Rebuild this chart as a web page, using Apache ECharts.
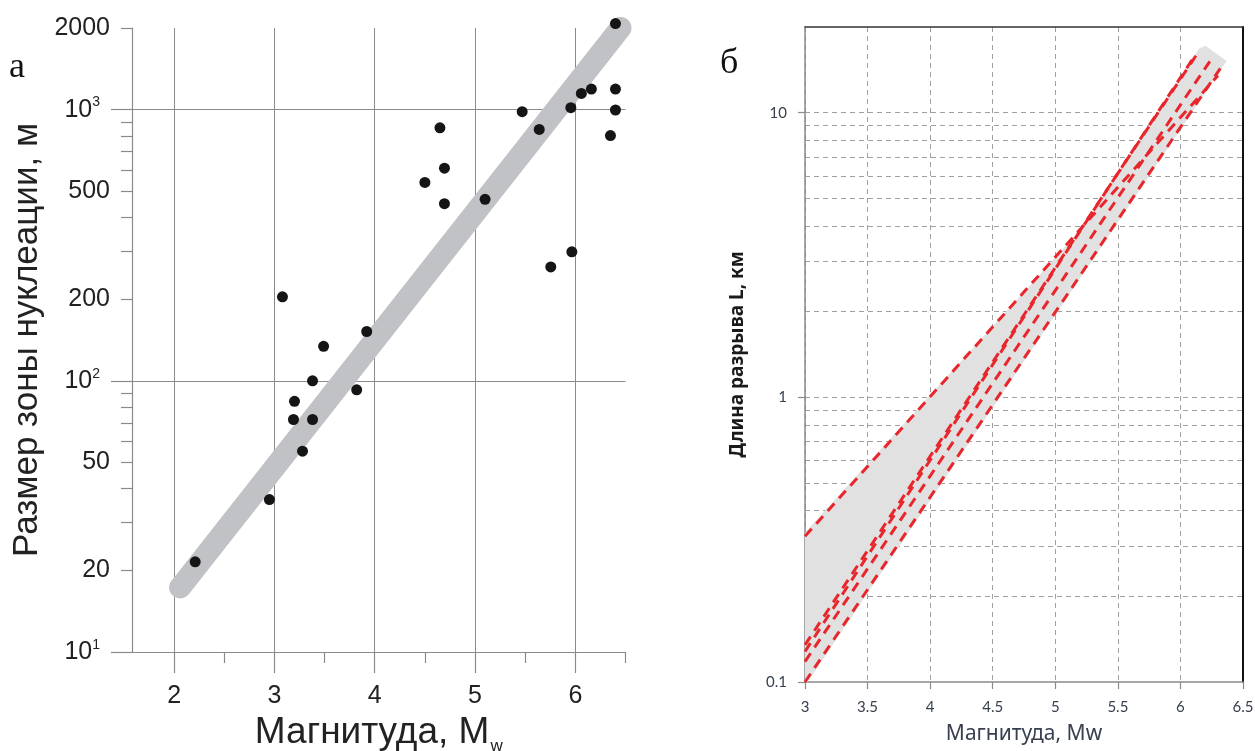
<!DOCTYPE html>
<html><head><meta charset="utf-8">
<script src="https://cdn.jsdelivr.net/npm/echarts@6/dist/echarts.min.js"></script>
<style>html,body{margin:0;padding:0;background:#fff}#c{width:1255px;height:751px}</style>
</head><body><div id="c"></div>
<script>
// ---------- Panel "а" data ----------
const magA  = [2.21, 2.95, 3.08, 3.19, 3.20, 3.28, 3.38, 3.38, 3.49, 3.82, 3.92, 4.50, 4.65, 4.695, 4.695, 5.10, 5.47, 5.64, 5.755, 5.955, 5.965, 6.06, 6.16, 6.35, 6.40, 6.40, 6.40];
const sizeA = [21.5, 36.5, 204, 72, 84, 55, 72, 100, 134, 92.6, 152, 539, 857, 608, 450, 467, 983, 845, 263, 1017, 299, 1148, 1191, 802, 997, 1191, 2076];
const trendMag  = [2.06, 6.45];
const trendSize = [17.3, 2000];
const xMajorA = [2, 3, 4, 5, 6];
const xMinorA = [2.5, 3.5, 4.5, 5.5, 6.5];
const yMajorA = [10, 100, 1000];
const yMajorExpA = ['1', '2', '3'];
const yLabelA = [20, 50, 200, 500, 2000];
const yMinorA = [20, 30, 40, 50, 60, 70, 80, 90, 200, 300, 400, 500, 600, 700, 800, 900, 2000];

// ---------- Panel "б" data ----------
const bandMag = [3, 5.22, 6.15, 6.2, 6.37, 3];
const bandLen = [0.335, 3.96, 16.8, 17.2, 15.2, 0.097];
const lineMags = [[3, 6.3], [3, 6.15], [3, 6.1], [3, 6.25], [3, 6.35]];
const lineLens = [[0.325, 13.5], [0.135, 16.5], [0.128, 15.5], [0.118, 15.5], [0.1, 15]];
const yMajorB = [0.1, 1, 10];
const yGridB = [0.2, 0.3, 0.4, 0.5, 0.6, 0.7, 0.8, 0.9, 1, 2, 3, 4, 5, 6, 7, 8, 9, 10];

const SANS = '"Liberation Sans", Arial, sans-serif';
const CAL = 'Lato, "Open Sans", sans-serif';
const NOTO = '"Noto Sans", "DejaVu Sans", sans-serif';
const GRAY = '#8a8a8a';

const chart = echarts.init(document.getElementById('c'), null, {renderer: 'canvas'});

const series = [
  {
    type: 'line', xAxisIndex: 0, yAxisIndex: 0, clip: false, silent: true,
    data: trendMag.map((m, i) => [m, trendSize[i]]),
    symbol: 'none', lineStyle: {color: '#c1c2c5', width: 22, cap: 'round'}, z: 2
  },
  {
    type: 'scatter', xAxisIndex: 0, yAxisIndex: 0, clip: false,
    data: magA.map((m, i) => [m, sizeA[i]]),
    symbol: 'circle', symbolSize: 11, itemStyle: {color: '#151515', opacity: 1}, z: 3
  },
  {
    type: 'custom', xAxisIndex: 2, yAxisIndex: 2, clip: true, z: 1,
    data: bandMag.map((m, i) => [m, bandLen[i]]),
    encode: {x: 0, y: 1},
    renderItem: function (params, api) {
      if (params.dataIndex !== 0) return null;
      const pts = bandMag.map((m, i) => api.coord([m, bandLen[i]]));
      return {type: 'polygon', shape: {points: pts}, style: {fill: '#e1e1e1'}};
    }
  }
];
lineMags.forEach((mm, k) => {
  series.push({
    type: 'line', xAxisIndex: 2, yAxisIndex: 2, symbol: 'none', z: 4,
    data: mm.map((m, i) => [m, lineLens[k][i]]),
    lineStyle: {color: '#e8262b', width: 3, type: [10, 7]}
  });
});

const option = {
  backgroundColor: '#fff',
  animation: false,
  grid: [
    {left: 132, top: 28, right: 629.5, bottom: 99, outerBoundsMode: 'none'},
    {left: 805, top: 27, right: 12, bottom: 69, outerBoundsMode: 'none'}
  ],
  xAxis: [
    {
      gridIndex: 0, type: 'value', min: 1.58, max: 6.5, position: 'bottom',
      axisLine: {show: true, lineStyle: {color: GRAY, width: 1.2}},
      axisTick: {show: true, customValues: xMinorA, length: 11, lineStyle: {color: GRAY, width: 1.2}},
      axisLabel: {show: false}, splitLine: {show: false}
    },
    {
      gridIndex: 0, type: 'value', min: 1.58, max: 6.5, position: 'bottom',
      axisLine: {show: false},
      axisTick: {show: true, customValues: xMajorA, length: 21, lineStyle: {color: GRAY, width: 1.2}},
      axisLabel: {show: true, customValues: xMajorA, margin: 32, fontSize: 25, color: '#222', fontFamily: SANS, formatter: v => String(v)},
      splitLine: {show: true, lineStyle: {color: GRAY, width: 1}},
      name: '{a|Магнитуда, M}{s|w}', nameLocation: 'middle', nameGap: 55,
      nameTextStyle: {rich: {
        a: {fontSize: 37, lineHeight: 38, color: '#222', fontFamily: SANS, verticalAlign: 'top'},
        s: {fontSize: 17, lineHeight: 17, color: '#222', fontFamily: SANS, verticalAlign: 'top', padding: [24, 0, 0, 1]}
      }}
    },
    {
      gridIndex: 1, type: 'value', min: 3, max: 6.5, interval: 0.5, position: 'bottom',
      axisLine: {show: true, lineStyle: {color: GRAY, width: 1.5}},
      axisTick: {show: true, length: 7, lineStyle: {color: GRAY, width: 1.2}},
      axisLabel: {show: true, margin: 18, fontSize: 15, color: '#38404f', fontFamily: CAL, formatter: v => String(v)},
      splitLine: {show: true, lineStyle: {color: '#a0a0a0', width: 1, type: [5, 4]}},
      name: 'Магнитуда, Mw', nameLocation: 'middle', nameGap: 42,
      nameTextStyle: {fontSize: 21, color: '#38404f', fontFamily: NOTO}
    },
    {
      gridIndex: 1, type: 'value', min: 3, max: 6.5, position: 'top',
      axisLine: {show: true, lineStyle: {color: '#333', width: 1.5}},
      axisTick: {show: false}, axisLabel: {show: false}, splitLine: {show: false}
    }
  ],
  yAxis: [
    {
      gridIndex: 0, type: 'log', min: 10, max: 2000, position: 'left',
      axisLine: {show: true, lineStyle: {color: GRAY, width: 1.2}},
      axisTick: {show: true, customValues: yMinorA, length: 11, lineStyle: {color: GRAY, width: 1.2}},
      axisLabel: {show: true, customValues: yLabelA, margin: 22, fontSize: 25, color: '#222', fontFamily: SANS, formatter: v => String(Math.round(v))},
      splitLine: {show: false},
      name: 'Размер зоны нуклеации, м', nameLocation: 'middle', nameRotate: 90, nameGap: 87,
      nameTextStyle: {fontSize: 35, color: '#222', fontFamily: SANS}
    },
    {
      gridIndex: 0, type: 'log', min: 10, max: 2000, position: 'left',
      axisLine: {show: false},
      axisTick: {show: true, customValues: yMajorA, length: 21, lineStyle: {color: GRAY, width: 1.2}},
      axisLabel: {show: true, customValues: yMajorA, margin: 32,
        formatter: v => '{b|10}{s|' + yMajorExpA[yMajorA.indexOf(Math.round(v))] + '}',
        rich: {
          b: {fontSize: 25, lineHeight: 28, color: '#222', fontFamily: SANS},
          s: {fontSize: 14, lineHeight: 14, color: '#222', fontFamily: SANS, verticalAlign: 'top'}
        }},
      splitLine: {show: true, lineStyle: {color: GRAY, width: 1}}
    },
    {
      gridIndex: 1, type: 'log', min: 0.1, max: 20, position: 'left',
      axisLine: {show: true, lineStyle: {color: GRAY, width: 1.5}},
      axisTick: {show: true, customValues: yMajorB, length: 7, lineStyle: {color: GRAY, width: 1.2}},
      axisLabel: {show: true, customValues: yMajorB, margin: 18, fontSize: 15, color: '#38404f', fontFamily: CAL, formatter: v => String(v)},
      splitLine: {show: false},
      name: 'Длина разрыва L, км', nameLocation: 'middle', nameRotate: 90, nameGap: 58,
      nameTextStyle: {fontSize: 19, fontWeight: 'bold', fontStyle: 'normal', color: '#1a1a1a', fontFamily: NOTO}
    },
    {
      gridIndex: 1, type: 'log', min: 0.1, max: 20, position: 'left',
      axisLine: {show: false},
      axisTick: {show: false, customValues: yGridB},
      axisLabel: {show: false},
      splitLine: {show: true, lineStyle: {color: '#a0a0a0', width: 1, type: [5, 4]}}
    },
    {
      gridIndex: 1, type: 'log', min: 0.1, max: 20, position: 'right',
      axisLine: {show: true, lineStyle: {color: '#111', width: 2}},
      axisTick: {show: false}, axisLabel: {show: false}, splitLine: {show: false}
    }
  ],
  graphic: [
    {type: 'text', left: 9, top: 50, style: {text: 'а', font: '36px "Liberation Serif", serif', fill: '#111'}},
    {type: 'text', left: 720, top: 46, style: {text: 'б', font: '36px "Liberation Serif", serif', fill: '#111'}}
  ],
  series: series
};
chart.setOption(option);
</script>
</body></html>
